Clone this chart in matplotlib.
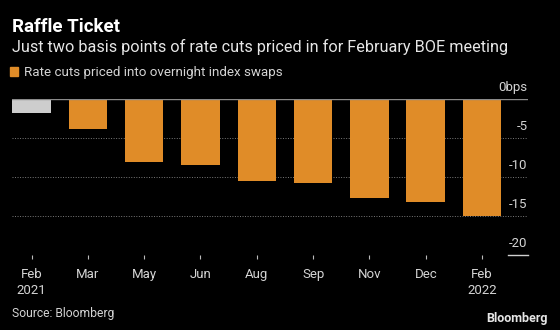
import matplotlib
matplotlib.use("Agg")
import matplotlib.pyplot as plt
from matplotlib.patches import Patch

plt.rcParams['font.family'] = ['Roboto', 'DejaVu Sans']

# meetings and priced cuts (bps)
months = ["Feb", "Mar", "May", "Jun", "Aug", "Sep", "Nov", "Dec", "Feb"]
years = ["2021", "", "", "", "", "", "", "", "2022"]
cuts = [-1.8, -3.75, -8.1, -8.4, -10.5, -10.7, -12.6, -13.2, -15.0]
ytick_vals = [0, -5, -10, -15, -20]
ytick_labels = ["0bps", "-5", "-10", "-15", "-20"]

orange = "#E08C28"
grey_bar = "#CDCDCD"
bg = "#000000"
txt = "#d4d4d4"

fig = plt.figure(figsize=(5.6, 3.3), dpi=100, facecolor=bg)
W, H = 560, 330

# axes box in pixels: x 12..528, y 99..255
ax = fig.add_axes([12.3 / W, (H - 255.3) / H, 515.4 / W, 156 / H])
ax.set_facecolor(bg)

x = list(range(len(cuts)))
colors = [grey_bar] + [orange] * (len(cuts) - 1)
ax.bar(x, cuts, width=0.684, color=colors, zorder=3)

ax.set_xlim(-0.341, 8.81)
ax.set_ylim(-20, 0)

# dotted gridlines and solid zero line
for v in [-5, -10, -15]:
    ax.axhline(v, color="#7a7a7a", lw=0.7, ls=(0, (1, 1.6)), zorder=1)
ax.axhline(0, color="#8a8a8a", lw=1.0, zorder=4)
ax.plot([0.962, 1.0], [-20, -20], transform=ax.get_yaxis_transform(),
        color="#d0d0d0", lw=1.0, clip_on=False)

# y labels sit above lines at right
for v, lab in zip(ytick_vals, ytick_labels):
    ax.annotate(lab, xy=(1.0, v), xycoords=("axes fraction", "data"),
                xytext=(0, 8.3), textcoords="offset points",
                ha="right", va="center", color=txt, fontsize=9.5)

for s in ax.spines.values():
    s.set_visible(False)
ax.set_yticks([])
ax.set_xticks(x)
ax.set_xticklabels([m + ("\n" + y if y else "") for m, y in zip(months, years)],
                   color=txt, fontsize=9.5, linespacing=1.3, va="top")
ax.tick_params(axis="x", length=3, width=0.8, color="#bbbbbb", pad=6,
               direction="out")

# titles
fig.text(12.5 / W, 1 - 27.5 / H, "Raffle Ticket", color="white",
         fontsize=13.5, fontweight="bold", va="center", ha="left")
fig.text(12.5 / W, 1 - 46.5 / H,
         "Just two basis points of rate cuts priced in for February BOE meeting",
         color="#e6e6e6", fontsize=11.7, va="center", ha="left")

leg = fig.legend(handles=[Patch(color=orange, label="Rate cuts priced into overnight index swaps")],
                 loc="center left", bbox_to_anchor=(4.5 / W, 1 - 72.5 / H),
                 frameon=False, fontsize=9.6, handlelength=0.6, handleheight=0.6,
                 handletextpad=0.45, borderaxespad=0)
for t in leg.get_texts():
    t.set_color(txt)

fig.text(12.5 / W, 1 - 314 / H, "Source: Bloomberg", color=txt,
         fontsize=8.7, va="center", ha="left")
fig.text(548 / W, 1 - 318.5 / H, "Bloomberg", color="#e6e6e6",
         fontsize=9, fontweight="bold", va="center", ha="right")

fig.savefig("out.png", dpi=100, facecolor=bg)
